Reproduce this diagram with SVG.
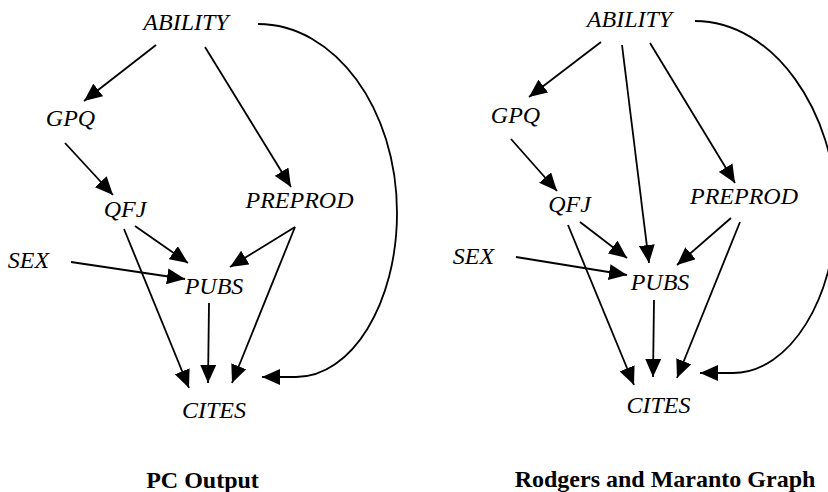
<svg xmlns="http://www.w3.org/2000/svg" width="828" height="492" viewBox="0 0 828 492">
<style>
.n{font-family:"Liberation Serif","Times New Roman",serif;font-style:italic;font-size:24px;fill:#000;text-anchor:middle}
.t{font-family:"Liberation Serif","Times New Roman",serif;font-weight:bold;font-size:24px;fill:#000;text-anchor:middle}
.e{fill:none;stroke:#000;stroke-width:1.8;marker-end:url(#ah)}
</style>
<defs>
<marker id="ah" markerUnits="userSpaceOnUse" viewBox="0 0 18 16" refX="18" refY="8" markerWidth="18" markerHeight="16" orient="auto">
<path d="M0,0 L18,8 L0,16 Z" fill="#000"/>
</marker>
</defs>
<rect width="828" height="492" fill="#fff"/>
<g id="connectors">
<line class="e" x1="156" y1="45" x2="84" y2="101"/>
<line class="e" x1="205" y1="47" x2="291" y2="187"/>
<line class="e" x1="65" y1="143" x2="113" y2="195"/>
<line class="e" x1="124" y1="229" x2="189" y2="388"/>
<line class="e" x1="135" y1="226" x2="188" y2="263"/>
<line class="e" x1="295" y1="227" x2="230" y2="267"/>
<line class="e" x1="295" y1="227" x2="232" y2="383"/>
<line class="e" x1="71" y1="262" x2="185" y2="279"/>
<line class="e" x1="209" y1="303" x2="208" y2="383"/>
<path class="e" d="M258,24 C335,24 397,109 397,213 C397,303 352,377 296,377 L262,377"/>
<line class="e" x1="601" y1="42" x2="529" y2="97"/>
<line class="e" x1="622" y1="45" x2="649" y2="263"/>
<line class="e" x1="650" y1="43" x2="735" y2="183"/>
<line class="e" x1="511" y1="139" x2="557" y2="191"/>
<line class="e" x1="568" y1="225" x2="634" y2="385"/>
<line class="e" x1="580" y1="222" x2="627" y2="258"/>
<line class="e" x1="731" y1="218" x2="677" y2="265"/>
<line class="e" x1="740" y1="222" x2="677" y2="378"/>
<line class="e" x1="516" y1="257" x2="627" y2="275"/>
<line class="e" x1="654" y1="300" x2="653" y2="377"/>
<path class="e" d="M695,21 C774,21 836,113 836,210 C836,297 790,373 733,373 L700,373"/>
</g>
<g id="L-ABILITY"><text class="n" x="186" y="30">ABILITY</text></g>
<g id="L-GPQ"><text class="n" x="70.5" y="126">GPQ</text></g>
<g id="L-QFJ"><text class="n" x="125" y="217">QFJ</text></g>
<g id="L-PREPROD"><text class="n" x="299.5" y="208">PREPROD</text></g>
<g id="L-SEX"><text class="n" x="28.5" y="268">SEX</text></g>
<g id="L-PUBS"><text class="n" x="214" y="294">PUBS</text></g>
<g id="L-CITES"><text class="n" x="214" y="418">CITES</text></g>
<g id="L-title"><text class="t" x="202.5" y="488">PC Output</text></g>
<g id="R-ABILITY"><text class="n" x="629.5" y="27">ABILITY</text></g>
<g id="R-GPQ"><text class="n" x="515.5" y="123">GPQ</text></g>
<g id="R-QFJ"><text class="n" x="569.5" y="212">QFJ</text></g>
<g id="R-PREPROD"><text class="n" x="744" y="204">PREPROD</text></g>
<g id="R-SEX"><text class="n" x="473.5" y="264">SEX</text></g>
<g id="R-PUBS"><text class="n" x="660" y="290">PUBS</text></g>
<g id="R-CITES"><text class="n" x="658.5" y="413">CITES</text></g>
<g id="R-title"><text class="t" x="665" y="487">Rodgers and Maranto Graph</text></g>
</svg>
